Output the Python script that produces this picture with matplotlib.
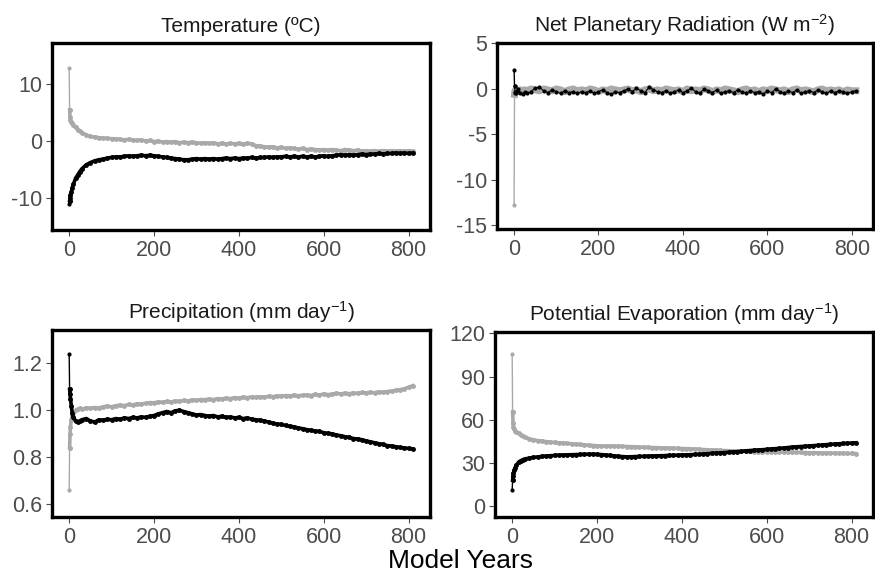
import numpy as np
import matplotlib
matplotlib.use("Agg")
import matplotlib.pyplot as plt

plt.rcParams['font.family'] = ['Liberation Sans', 'DejaVu Sans']
plt.rcParams['mathtext.fontset'] = 'custom'
plt.rcParams['mathtext.rm'] = 'Liberation Sans'
plt.rcParams['mathtext.it'] = 'Liberation Sans:italic'

"""Model years (dense at the start, then every 10 years)"""
years = [0, 1, 2, 3, 5, 7, 10, 15, 20, 25, 30, 40, 50] + list(range(60, 811, 10))

"""Temperature (degC)"""
temp_gray = [12.8, 5.5, 4.2, 3.7, 3.4, 3.1, 2.8, 2.4, 2.0, 1.8, 1.5, 1.1, 0.8,
             0.7, 0.6, 0.5, 0.5, 0.4, 0.4, 0.3, 0.2, 0.3, 0.2,
             0.1, 0.2, 0.0, 0.1, -0.1, 0.0, -0.2, -0.1, -0.2, -0.1,
             -0.3, -0.2, -0.3, -0.2, -0.3, -0.4, -0.3, -0.4, -0.3, -0.5,
             -0.4, -0.5, -0.4, -0.5, -0.4, -0.6, -0.4, -0.5, -0.8, -0.9,
             -1.0, -1.1, -1.0, -1.2, -1.1, -1.3, -1.2, -1.3, -1.4, -1.3,
             -1.5, -1.4, -1.5, -1.6, -1.5, -1.6, -1.5, -1.6, -1.7, -1.5,
             -1.6, -1.7, -1.6, -1.8, -1.7, -1.8, -1.7, -1.8, -1.7, -1.8,
             -1.7, -1.8, -1.7, -1.8, -1.7, -1.8]
temp_black = [-11.2, -10.5, -10.0, -9.6, -9.0, -8.3, -7.6, -6.6, -6.0, -5.4, -4.9, -4.2, -3.8,
              -3.5, -3.3, -3.2, -3.0, -2.9, -2.8, -2.8, -2.7, -2.6, -2.7,
              -2.6, -2.5, -2.6, -2.5, -2.6, -2.7, -2.8, -2.9, -3.0, -3.1,
              -3.2, -3.3, -3.3, -3.2, -3.1, -3.2, -3.1, -3.2, -3.1, -3.2,
              -3.1, -3.0, -3.1, -3.0, -3.1, -3.0, -3.0, -2.9, -3.0, -2.9,
              -2.9, -2.8, -2.9, -2.8, -2.8, -2.7, -2.8, -2.7, -2.8, -2.7,
              -2.8, -2.7, -2.8, -2.7, -2.6, -2.7, -2.6, -2.5, -2.4, -2.5,
              -2.4, -2.5, -2.4, -2.3, -2.4, -2.3, -2.3, -2.2, -2.3, -2.2,
              -2.2, -2.1, -2.2, -2.1, -2.2, -2.1]

"""Net planetary radiation (W m-2)"""
rad_gray = [-12.8, -0.6, -0.2, -0.3, -0.1, -0.2, -0.3, -0.1, -0.2, -0.1, -0.2, 0.0, -0.1,
            -0.2, 0.0, -0.1, -0.2, 0.0, -0.1, -0.3, -0.1, 0.0, -0.2,
            -0.1, -0.2, 0.0, -0.1, -0.3, -0.1, -0.2, 0.0, -0.1, -0.2,
            -0.1, 0.0, -0.2, -0.1, -0.3, -0.1, 0.0, -0.2, -0.1, -0.2,
            0.0, -0.1, -0.2, -0.1, -0.3, 0.0, -0.2, -0.1, -0.2, 0.0,
            -0.1, -0.3, -0.1, -0.2, 0.0, -0.1, -0.2, -0.3, -0.1, 0.0,
            -0.2, -0.1, -0.3, -0.1, -0.2, 0.0, -0.1, -0.2, -0.1, -0.3,
            -0.1, 0.0, -0.2, -0.1, -0.2, -0.3, -0.1, 0.0, -0.2, -0.1,
            -0.2, -0.1, -0.3, -0.1, -0.2, -0.2]
rad_black = [2.1, 0.3, -0.3, -0.5, -0.4, -0.2, 0.0, -0.5, -0.6, -0.3, -0.5, -0.3, 0.1,
             0.2, -0.2, -0.4, -0.1, -0.3, -0.5, -0.2, -0.4, -0.3, -0.5,
             -0.3, -0.4, -0.2, -0.5, -0.3, -0.1, -0.4, -0.6, -0.3, -0.4,
             -0.2, 0.0, -0.3, 0.1, -0.2, -0.4, 0.2, -0.1, -0.3, -0.4,
             -0.2, -0.5, -0.3, -0.1, -0.4, -0.2, 0.1, -0.3, -0.5, 0.0,
             -0.2, -0.4, -0.1, -0.5, -0.3, -0.2, -0.4, -0.1, -0.3, -0.5,
             -0.2, -0.4, -0.3, -0.6, -0.2, -0.4, 0.0, -0.3, -0.5, -0.2,
             -0.4, -0.1, -0.5, -0.3, -0.2, -0.4, -0.1, -0.3, -0.5, -0.2,
             -0.4, -0.2, -0.3, -0.5, -0.3, -0.2]

"""Precipitation (mm day-1)"""
prec_gray = [0.66, 0.84, 0.90, 0.93, 0.96, 0.98, 0.99, 1.0, 1.005, 1.008, 1.005, 1.01, 1.008,
             1.012, 1.01, 1.015, 1.018, 1.015, 1.02, 1.022, 1.02, 1.025, 1.023,
             1.028, 1.026, 1.03, 1.033, 1.032, 1.036, 1.034, 1.038, 1.036, 1.04,
             1.038, 1.042, 1.04, 1.044, 1.042, 1.046, 1.045, 1.048, 1.046, 1.05,
             1.048, 1.052, 1.05, 1.054, 1.052, 1.056, 1.054, 1.057, 1.055, 1.058,
             1.056, 1.06, 1.058, 1.062, 1.06, 1.063, 1.061, 1.065, 1.062, 1.064,
             1.066, 1.063, 1.068, 1.065, 1.07, 1.067, 1.069, 1.072, 1.07, 1.073,
             1.071, 1.074, 1.072, 1.076, 1.074, 1.077, 1.075, 1.079, 1.077, 1.08,
             1.082, 1.085, 1.088, 1.092, 1.098, 1.105]
prec_black = [1.24, 1.09, 1.07, 1.05, 1.02, 0.99, 0.97, 0.955, 0.95, 0.955, 0.96, 0.965, 0.955,
              0.95, 0.96, 0.958, 0.962, 0.96, 0.965, 0.962, 0.968, 0.965, 0.97,
              0.968, 0.972, 0.97, 0.975, 0.978, 0.985, 0.99, 0.995, 0.99, 0.998,
              1.0, 0.995, 0.99, 0.985, 0.98, 0.982, 0.978, 0.975, 0.978, 0.972,
              0.975, 0.97, 0.972, 0.968, 0.97, 0.965, 0.968, 0.962, 0.96, 0.958,
              0.955, 0.95, 0.945, 0.942, 0.94, 0.936, 0.932, 0.93, 0.925, 0.922,
              0.918, 0.915, 0.912, 0.91, 0.905, 0.902, 0.9, 0.895, 0.892, 0.888,
              0.885, 0.88, 0.878, 0.875, 0.87, 0.866, 0.862, 0.858, 0.855, 0.85,
              0.848, 0.845, 0.842, 0.84, 0.838, 0.836]

"""Potential evaporation (mm day-1)"""
pet_gray = [105.6, 65.5, 58.0, 55.0, 53.5, 52.5, 51.5, 50.5, 49.5, 48.8, 48.0, 46.8, 46.0,
            45.5, 45.2, 44.8, 44.5, 44.2, 44.0, 43.8, 43.5, 43.3, 43.0,
            42.8, 42.6, 42.3, 42.1, 41.9, 41.8, 41.7, 41.7, 41.6, 41.5,
            41.5, 41.4, 41.3, 41.2, 41.0, 40.9, 40.8, 40.7, 40.6, 40.5,
            40.4, 40.3, 40.2, 40.1, 40.0, 39.9, 39.8, 39.6, 39.5, 39.3,
            39.1, 39.0, 38.8, 38.7, 38.6, 38.5, 38.4, 38.3, 38.2, 38.1,
            38.0, 37.9, 37.8, 37.8, 37.7, 37.7, 37.6, 37.6, 37.5, 37.5,
            37.4, 37.3, 37.3, 37.2, 37.1, 37.1, 37.0, 36.9, 36.9, 36.8,
            36.8, 36.7, 36.7, 36.6, 36.6, 36.5]
pet_black = [11.1, 18.0, 21.0, 22.7, 25.0, 26.8, 28.5, 30.5, 31.5, 32.2, 32.8, 33.3, 33.8,
             34.2, 34.5, 34.8, 35.0, 35.2, 35.4, 35.5, 35.6, 35.7, 35.8,
             35.9, 36.0, 36.1, 36.1, 36.0, 35.8, 35.5, 35.2, 34.9, 34.6,
             34.4, 34.2, 34.3, 34.4, 34.5, 34.6, 34.7, 34.8, 34.9, 35.0,
             35.1, 35.2, 35.3, 35.4, 35.5, 35.6, 35.7, 35.9, 36.0, 36.2,
             36.4, 36.6, 36.8, 37.0, 37.2, 37.4, 37.6, 37.8, 38.0, 38.4,
             38.6, 38.8, 39.0, 39.2, 39.4, 39.7, 39.9, 40.1, 40.4, 40.7,
             41.0, 41.2, 41.4, 41.6, 41.8, 42.0, 42.2, 42.4, 42.7, 42.9,
             43.1, 43.3, 43.5, 43.6, 43.8, 44.0]

titles = ["Temperature (ºC)", r"Net Planetary Radiation (W m$^{-2}$)",
          r"Precipitation (mm day$^{-1}$)", r"Potential Evaporation (mm day$^{-1}$)"]
series = [(temp_gray, temp_black), (rad_gray, rad_black),
          (prec_gray, prec_black), (pet_gray, pet_black)]
ylims = [(-15.7, 17.3), (-15.4, 5.05), (0.546, 1.342), (-7.6, 121)]
yticks = [[-10, 0, 10], [-15, -10, -5, 0, 5], [0.6, 0.8, 1.0, 1.2], [0, 30, 60, 90, 120]]
yticklabels = [["-10", "0", "10"], ["-15", "-10", "-5", "0", "5"],
               ["0.6", "0.8", "1.0", "1.2"], ["0", "30", "60", "90", "120"]]
# line widths and marker sizes (gray, black) per panel
widths = [(2.6, 2.6), (5.0, 0.8), (2.6, 2.6), (2.6, 2.6)]
msizes = [(2.5, 2.5), (2.5, 2.0), (2.5, 2.5), (2.5, 2.5)]

# axes boxes in pixels: left, top, right, bottom
boxes = [(52, 43, 430, 230), (497, 43, 873, 229), (52, 330, 430, 517), (495, 332, 873, 517)]

W, H = 875, 575
fig = plt.figure(figsize=(W / 100, H / 100), dpi=100)

x = np.array(years)
for i in range(4):
    l, t, r, b = boxes[i]
    ax = fig.add_axes([l / W, (H - b) / H, (r - l) / W, (b - t) / H])
    g, k = series[i]
    for j, (yv, col) in enumerate([(g, '#a9a9a9'), (k, 'black')]):
        yv = np.array(yv)
        ax.plot(x[:2], yv[:2], color=col, lw=1.0, marker='o', ms=2)
        ax.plot(x[1:], yv[1:], color=col, lw=widths[i][j], marker='o',
                ms=msizes[i][j], solid_joinstyle='round')
    ax.set_xlim(-40.5, 850.5)
    ax.set_ylim(*ylims[i])
    ax.set_xticks([0, 200, 400, 600, 800])
    ax.set_yticks(yticks[i])
    ax.set_yticklabels(yticklabels[i])
    ax.tick_params(colors='#4d4d4d', labelsize=15.5, length=4, width=0.8, pad=3)
    for s in ax.spines.values():
        s.set_linewidth(2.4)
        s.set_color('black')
    ax.set_title(titles[i], fontsize=15, color='#1a1a1a', pad=8)

fig.text(461 / W, 1 - 561 / H, "Model Years", ha='center', va='center', fontsize=19)

fig.savefig("out.png", dpi=100)
